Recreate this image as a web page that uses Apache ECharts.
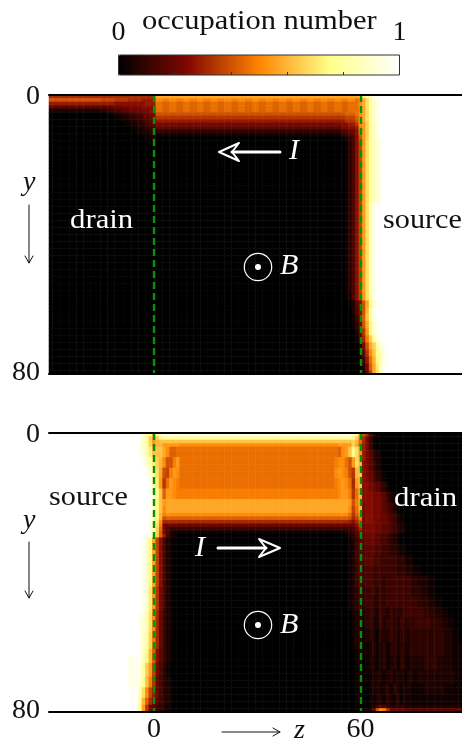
<!DOCTYPE html>
<html><head><meta charset="utf-8">
<style>html,body{margin:0;padding:0;background:#fff}#c{width:462px;height:740px}</style>
<script src="https://cdn.jsdelivr.net/npm/echarts@6/dist/echarts.min.js"></script>
</head><body><div id="c"></div>
<script>
// Occupation levels: one base-36 character per z cell, level/35 is the occupation number.
// Each entry: [number of y rows, "cells"]; "ab*n" repeats a group, last cell carries on to the right edge.
const zCats = Array.from({length:120},(_,i)=>String(i-30));
const yCats = Array.from({length:80},(_,i)=>String(i));
const zTickLabels = ['0','60'];
const yTickLabels = {0:'0',79:'80'};
const colorbarTickLabels = [0,1];
const topRows = [
 [1,"b*31 k*58 kmpsvxz"],
 [1,"e*15 ddddccccbbbbaaaa iihh*14 ii gikosvxz"],
 [1,"a*15 aaaa999999999aaa ggff*14 gg gikosvxz"],
 [1,"6*15 6667777888889999 ggff*14 gg gikosvxz"],
 [1,"2*15 3344556677778899 ggff*14 gg gikosvxz"],
 [1,"0*15 0011223344556788 e*55 f*3 gikosvxz"],
 [1,"0*15 0000112233445677 c*55 d*3 fikosvxz"],
 [1,"0*19 001122334566 a*55 c*3 eikosvxz"],
 [1,"0*21 0112233455 8*54 9*2 a*2 cijnruxz"],
 [1,"0*23 01122344 6*54 8*2 9*2 ahjnruxz"],
 [1,"0*25 112233 3*54 5*2 7*2 9gjnruxz"],
 [1,"0*27 1122 1*54 3456 9fjnruxz"],
 [1,"0*28 112 0*54 1235 9ejnruxz"],
 [18,"0*86 1359djoruwyz"],
 [25,"0*86 1359djotxz"],
 [3,"0*86 1259djosxz"],
 [2,"0*87 1269ekqvyz"],
 [2,"0*87 0259elsxz"],
 [2,"0*88 148fmrxz"],
 [2,"0*88 137ekqvyz"],
 [2,"0*89 26cjqvyz"],
 [2,"0*89 15bhnsxyz"],
 [2,"0*90 28eknsxyz"],
 [2,"0*90 16cimruyyz"],
 [2,"0*90 14aglquyyz"],
 [2,"0*91 28fkpvyz"],
 [1,"0*91 16dkouyz"]
];
// bottom panel, z cells left of and up to the z=60 line
const bottomCore = [
 [1,"z*26 ywuqmsvx x*54 wsj"],
 [1,"z*26 yvrnknqs s*54 rnh"],
 [1,"z*26 yvrnjlmm m*54 nlg"],
 [1,"z*26 yvrnjllj j*4 i*46 j*4 nkf"],
 [3,"z*26 ywtpmmmkiffg g*45 gfijmqoj"],
 [3,"z*26 zywspnlieehj g*45 hiigejol"],
 [3,"z*26 zzyvsokedhji g*45 ijihecl m"],
 [3,"z*26 zzzxupjcgjih g*45 hijigbjm"],
 [3,"z*26 zzzywrmfjjih h*45 hijjhcgl"],
 [2,"z*26 zzzyvqmjkkkk k*45 kkkkjehl"],
 [2,"z*26 zzzyvqmikkkk k*45 kkkkidgl"],
 [1,"z*26 zzzyvqlhiiii i*45 iiiigcfj"],
 [1,"z*26 zzzyvqleffff f*45 ffffebdh"],
 [1,"z*26 zzzxupibbbbb b*45 bbbba9bf"],
 [1,"z*26 zzzxuoh87777 7*45 7777779d"],
 [1,"z*26 zzzxtng85444 4*45 4444457b"],
 [1,"z*26 zzzxtnf85211 1*45 11123469"],
 [1,"z*26 zzzxsnfa5210 0*45 00012358"],
 [14,"z*26 zyvqkd95210 0*50 1246"],
 [7,"z*26 zyvpjc85210 0*50 1235"],
 [6,"z*26 ywtoib74210 0*50 0123"],
 [5,"z*26 yvsnhb74210 0*50 0123"],
 [2,"z*26 yuqlf964210 0*50 0012"],
 [2,"z*23 xyx yuqlf964210 0*50 0012"],
 [4,"z*23 xyx xsnjd853100 0*50 0012"],
 [3,"z*23 xyx wrmhc753210 0*50 0012"],
 [3,"z*24 yz uoida753210 0*50 0011"],
 [2,"z*24 yz slfb8643210 0*50 0011"],
 [2,"z*26 rjc76432110 0*50 0011"]
];
// bottom panel, z cells to the right of the z=60 line (drain side)
const bottomDrain = [
 [1,"eb6310"],
 [2,"b84100"],
 [2,"a84100"],
 [3,"a8632100"],
 [3,"98642100"],
 [3,"987532100"],
 [3,"9987643100"],
 [3,"99988764210"],
 [3,"899887654210"],
 [3,"8998877654210"],
 [3,"78887766543210"],
 [3,"677765543210"],
 [3,"56665544332110"],
 [3,"5665544444332110"],
 [3,"455444444433322110"],
 [3,"4554443444444433222110"],
 [3,"34443434444444333221100"],
 [3,"344334344444444433322110"],
 [3,"23432432433344444433322110"],
 [3,"2342242343243334444433322110"],
 [4,"12321322432332333333333322110"],
 [4,"11231231332322333333333322111"],
 [4,"01221231231321222233332222111"],
 [4,"01122212312212212222222222211"],
 [3,"00122123132122111122222211111"],
 [3,"00112213213121111111111111111"],
 [1,"00124654333322222222222222222"],
 [1,"1126eihc777776666666666666666"]
];
const colorStops = ['#000000','#840800','#ff8400','#ffff88','#ffffff'];

function expand(rows){
  const out=[];
  rows.forEach(([n,s])=>{
    const cells=s.trim().split(/\s+/).map(t=>{const [g,c]=t.split('*');return g.repeat(c?+c:1)}).join('');
    for(let k=0;k<n;k++) out.push(cells);
  });
  return out;
}
function cellsToData(lines){
  const out=[];
  lines.forEach((line,y)=>{
    const cells=line.slice(0,zCats.length).padEnd(zCats.length,line[line.length-1]);
    for(let x=0;x<cells.length;x++) out.push([x,y,parseInt(cells[x],36)/35]);
  });
  return out;
}
const topData=cellsToData(expand(topRows));
const drainLines=expand(bottomDrain);
const bottomData=cellsToData(expand(bottomCore).map((l,i)=>l+drainLines[i]));

const serif='"Liberation Serif", serif';
const ink='#111';
const lab={fontFamily:serif,fontSize:28,color:ink};
function zAxis(grid,pos,labels){
  return {type:'category',gridIndex:grid,position:pos,data:zCats,z:10,
    axisLine:{show:true,onZero:false,lineStyle:{color:'#000',width:2}},axisTick:{show:false},splitLine:{show:false},
    axisLabel:labels?{show:true,interval:(i,v)=>zTickLabels.includes(v),margin:4,...lab}:{show:false}};
}
function yAxis(grid){
  return {type:'category',gridIndex:grid,inverse:true,data:yCats,axisLine:{show:false},axisTick:{show:false},splitLine:{show:false},
    axisLabel:{show:true,interval:i=>i in yTickLabels,formatter:(v,i)=>yTickLabels[i]||'',margin:9,...lab}};
}
function heat(data,xi,yi){
  return {type:'heatmap',xAxisIndex:xi,yAxisIndex:yi,data,progressive:0,silent:true,
    markLine:{silent:true,symbol:'none',label:{show:false},animation:false,
      lineStyle:{color:'#0a8f0a',type:[7,4],width:2.4},
      data:zTickLabels.map(v=>({xAxis:v}))}};
}
function T(text,x,y,o={}){
  const {fill=ink,size=26,italic=false,sx=1}=o;
  return {type:'text',x,y,z:20,scaleX:sx,style:{text,fill,font:(italic?'italic ':'')+size+'px '+serif,textAlign:'left',textVerticalAlign:'middle'}};
}
function L(points,stroke,w,fill){return {type:'polyline',z:20,shape:{points},style:{stroke,lineWidth:w,fill:fill||null,lineCap:'round',lineJoin:'round'}};}
function C(cx,cy,r,o){return {type:'circle',z:20,shape:{cx,cy,r},style:o};}
const chart=echarts.init(document.getElementById('c'),null,{renderer:'canvas'});
chart.setOption({
  animation:false,backgroundColor:'#fff',
  grid:[
    {left:49,right:0,top:95,height:279,outerBoundsMode:'none'},
    {left:49,right:0,top:433,height:279,outerBoundsMode:'none'},
    {left:118.5,width:281,top:55,height:20,outerBoundsMode:'none',show:true,borderColor:'#333',borderWidth:1,backgroundColor:'transparent',z:8}
  ],
  xAxis:[zAxis(0,'bottom',false),zAxis(0,'top',false),zAxis(1,'bottom',true),zAxis(1,'top',false),
    {type:'value',gridIndex:2,position:'top',min:0,max:1,interval:0.2,z:10,
     axisLine:{show:false},splitLine:{show:false},axisTick:{show:true,length:3,lineStyle:{color:'#333',width:1}},
     axisLabel:{show:true,margin:8,...lab,formatter:v=>colorbarTickLabels.includes(v)?String(v):''}}],
  yAxis:[yAxis(0),yAxis(1),{type:'value',gridIndex:2,show:false,min:0,max:1}],
  visualMap:{type:'continuous',show:true,min:0,max:1,seriesIndex:[0,1],orient:'horizontal',left:118.5,top:55,padding:0,
    itemWidth:20,itemHeight:281,calculable:false,hoverLink:false,inRange:{color:colorStops},textStyle:{fontSize:1,color:'transparent'}},
  series:[heat(topData,0,0),heat(bottomData,2,1)],
  graphic:[
    T('occupation number',142,22,{size:28,sx:1.09}),
    T('drain',70,221,{fill:'#fff',size:27,sx:1.14}),
    T('source',383,221,{size:27,sx:1.12}),
    T('source',49,498,{size:27,sx:1.12}),
    T('drain',394,499,{fill:'#fff',size:27,sx:1.14}),
    T('y',23,183,{italic:true,size:28}),
    T('y',23,521,{italic:true,size:28}),
    L([[29,205],[29,263]],ink,1),L([[25,256],[29,263],[33,256]],ink,1),
    L([[29,542],[29,598]],ink,1),L([[25,591],[29,598],[33,591]],ink,1),
    L([[232,152],[280,152]],'#fff',3),L([[239,143],[219,152],[239,161],[232,152],[239,143]],'#fff',2),
    T('I',289,151,{italic:true,fill:'#fff',size:30}),
    L([[218,548],[266,548]],'#fff',3),L([[259,539],[280,548],[259,557],[266,548],[259,539]],'#fff',2),
    T('I',195,548,{italic:true,fill:'#fff',size:30}),
    C(258,267,13.7,{stroke:'#fff',lineWidth:1.2,fill:null}),C(258,267,3,{fill:'#fff'}),
    T('B',280,266,{italic:true,fill:'#fff',size:30}),
    C(258,625,13.7,{stroke:'#fff',lineWidth:1.2,fill:null}),C(258,625,3,{fill:'#fff'}),
    T('B',280,625,{italic:true,fill:'#fff',size:30}),
    L([[222,732],[280,732]],ink,1),L([[273,728],[280,732],[273,736]],ink,1),
    T('z',294,731,{italic:true,size:28})
  ]
});
</script></body></html>
